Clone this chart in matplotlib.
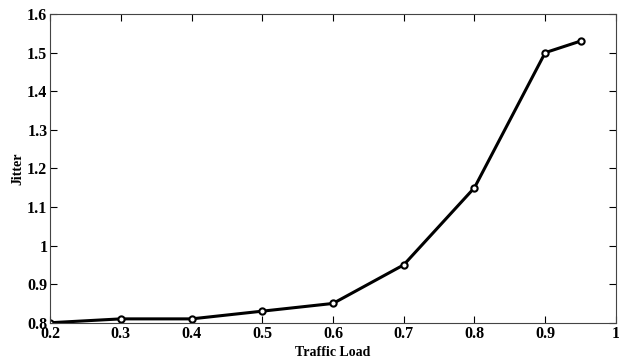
import matplotlib
matplotlib.use("Agg")
import matplotlib.pyplot as plt

traffic_load = [0.2, 0.3, 0.4, 0.5, 0.6, 0.7, 0.8, 0.9, 0.95]
jitter = [0.80, 0.81, 0.81, 0.83, 0.85, 0.95, 1.15, 1.50, 1.53]

x_ticks = [0.2, 0.3, 0.4, 0.5, 0.6, 0.7, 0.8, 0.9, 1]
x_tick_labels = ["0.2", "0.3", "0.4", "0.5", "0.6", "0.7", "0.8", "0.9", "1"]
y_ticks = [0.8, 0.9, 1, 1.1, 1.2, 1.3, 1.4, 1.5, 1.6]
y_tick_labels = ["0.8", "0.9", "1", "1.1", "1.2", "1.3", "1.4", "1.5", "1.6"]

plt.rcParams['font.family'] = ['Liberation Serif', 'DejaVu Serif']
plt.rcParams['font.weight'] = 'bold'

fig = plt.figure(figsize=(6.19, 3.61), dpi=100)
ax = fig.add_axes([0.081, 0.106, 0.914, 0.855])

ax.plot(traffic_load, jitter, color='black', linewidth=2.2, marker='o',
        markersize=4.5, markerfacecolor='white', markeredgecolor='black',
        markeredgewidth=1.5)

ax.set_xlim(0.2, 1)
ax.set_ylim(0.8, 1.6)
ax.set_xticks(x_ticks)
ax.set_xticklabels(x_tick_labels)
ax.set_yticks(y_ticks)
ax.set_yticklabels(y_tick_labels)
ax.tick_params(direction='in', length=5, width=0.8, labelsize=11.5, pad=2,
               top=True, right=True)
for spine in ax.spines.values():
    spine.set_linewidth(0.8)
    spine.set_color('#444444')

ax.set_xlabel('Traffic Load', fontsize=10, fontweight='bold', labelpad=3)
ax.set_ylabel('Jitter', fontsize=10, fontweight='bold', labelpad=2)

plt.savefig('out.png', dpi=100)
